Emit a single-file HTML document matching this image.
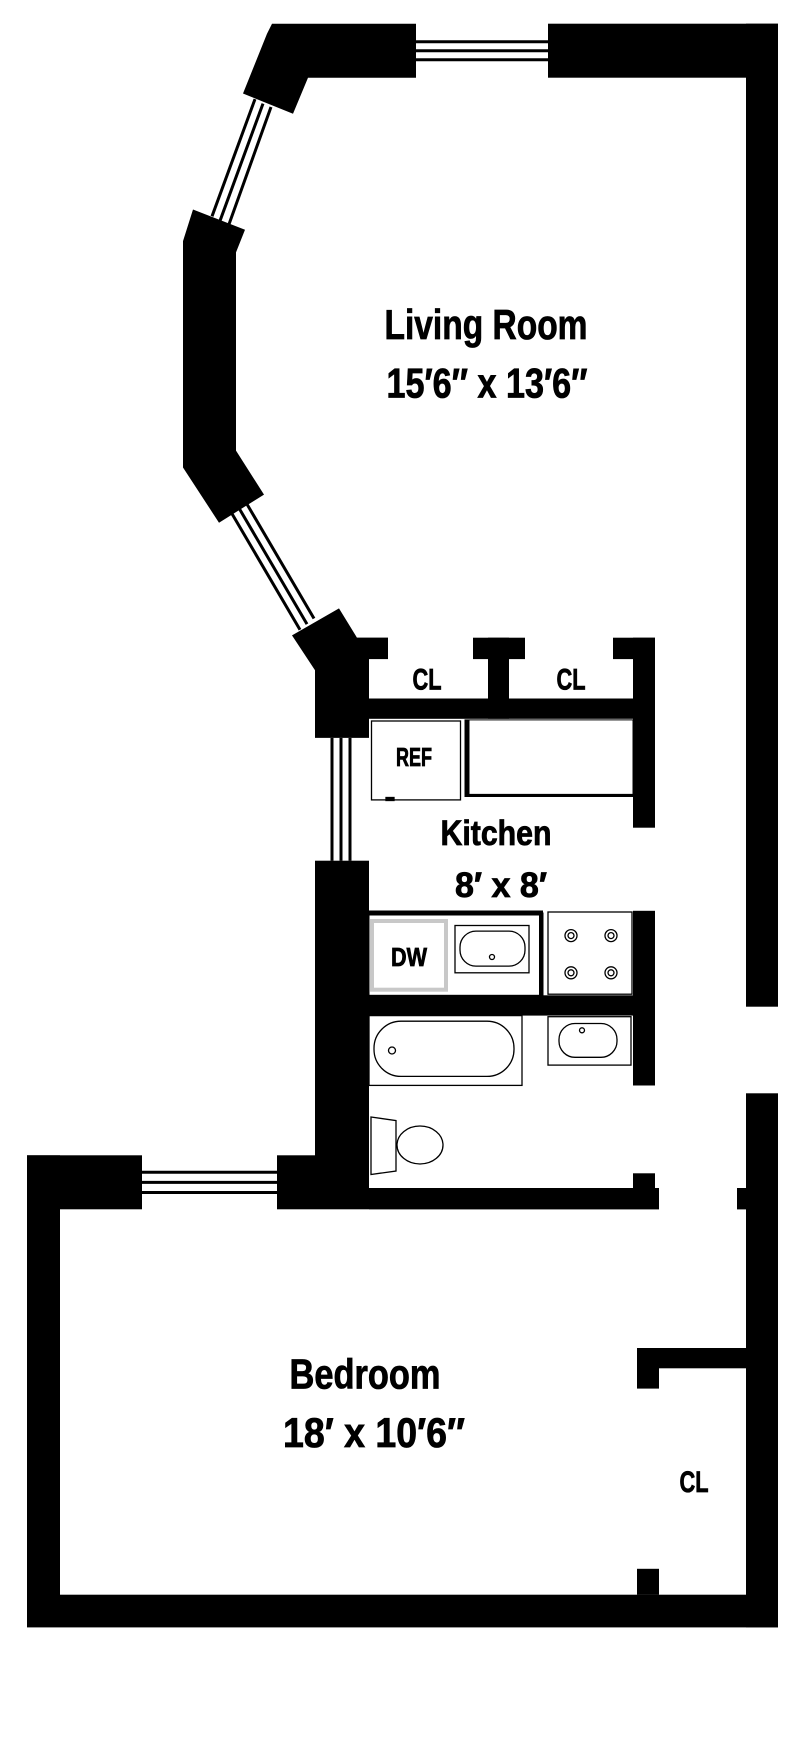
<!DOCTYPE html>
<html><head><meta charset="utf-8"><style>
html,body{margin:0;padding:0;background:#fff;}
svg{display:block;}
text{font-family:"Liberation Sans",sans-serif;font-weight:bold;fill:#000;stroke:#000;stroke-width:0.8;text-anchor:middle;}
</style></head><body>
<svg width="800" height="1749" viewBox="0 0 800 1749" xmlns="http://www.w3.org/2000/svg">
<g fill="#000">
<polygon points="272,23.7 416,23.7 416,77.7 308,77.7 293,113.8 243,93.5 267,33.8"/>
<rect x="548" y="23.7" width="230" height="54"/>
<rect x="746" y="23.7" width="32" height="983"/>
<polygon points="193,209.5 245,229.8 236,252.4 236,450.6 264,494.6 219,522.7 183,467.5 183,241.1"/>
<polygon points="292,635.4 339,608.4 357,637.7 388,637.7 388,659 369,659 369,737.9 315,737.9 315,670.3"/>
<rect x="315" y="860.7" width="54" height="348"/>
<rect x="357" y="637.7" width="31" height="21.4"/>
<rect x="473" y="637.7" width="52" height="21.4"/>
<rect x="488" y="637.7" width="21" height="81"/>
<rect x="613" y="637.7" width="42" height="21.4"/>
<rect x="633" y="637.7" width="22" height="190"/>
<rect x="369" y="698.5" width="286" height="20.3"/>
<rect x="633" y="910.8" width="22" height="174.7"/>
<rect x="369" y="995.3" width="264" height="20.3"/>
<rect x="27" y="1155.3" width="115" height="54"/>
<rect x="277" y="1155.3" width="92" height="54"/>
<rect x="369" y="1188" width="290" height="21.4"/>
<rect x="633" y="1173.3" width="22" height="15.7"/>
<rect x="737" y="1188" width="10" height="21.4"/>
<rect x="27" y="1155.3" width="33" height="440"/>
<rect x="27" y="1594.7" width="751" height="32.7"/>
<rect x="746" y="1093.3" width="32" height="534"/>
<rect x="637" y="1348" width="109" height="20.3"/>
<rect x="637" y="1348" width="22" height="40.6"/>
<rect x="637" y="1568.8" width="22" height="26"/>
</g>
<g stroke="#000" stroke-width="3" fill="none">
<line x1="416" y1="41.7" x2="548" y2="41.7"/><line x1="416" y1="50.7" x2="548" y2="50.7"/><line x1="416" y1="59.7" x2="548" y2="59.7"/>
<line x1="255" y1="99.1" x2="212" y2="216.3"/><line x1="263" y1="103.6" x2="220" y2="220.8"/><line x1="271" y1="107" x2="229" y2="224.2"/>
<line x1="232" y1="513.7" x2="300" y2="629.8"/><line x1="239" y1="508.1" x2="307" y2="624.1"/><line x1="246" y1="502.5" x2="314" y2="618.5"/>
<line x1="332" y1="737.9" x2="332" y2="860.7"/><line x1="341" y1="737.9" x2="341" y2="860.7"/><line x1="350" y1="737.9" x2="350" y2="860.7"/>
<line x1="142" y1="1172.2" x2="277" y2="1172.2"/><line x1="142" y1="1182.4" x2="277" y2="1182.4"/><line x1="142" y1="1192.5" x2="277" y2="1192.5"/>
</g>
<g fill="none" stroke="#000" stroke-width="1.3">
<rect x="371.5" y="721" width="89" height="78.9"/>
<rect x="386" y="797.5" width="8" height="3" fill="#000"/>
<rect x="465" y="719.9" width="168" height="76.6" stroke-width="1"/>
<line x1="467" y1="719.9" x2="467" y2="797" stroke-width="5"/>
<line x1="465" y1="795.4" x2="633" y2="795.4" stroke-width="3"/>
<rect x="369" y="913" width="174" height="82.3" stroke-width="1"/>
<line x1="369" y1="913" x2="543" y2="913" stroke-width="5"/>
<line x1="541" y1="913" x2="541" y2="995.3" stroke-width="4"/>
<rect x="372" y="921" width="74" height="68.7" stroke="#c8c8c8" stroke-width="4"/>
<rect x="455" y="925.5" width="74" height="47.3"/>
<rect x="460" y="931.1" width="65" height="35" rx="16"/>
<circle cx="492" cy="957" r="2.5"/>
<rect x="548" y="912" width="84" height="82.2"/>
<circle cx="571" cy="935.6" r="6"/><circle cx="571" cy="935.6" r="3"/>
<circle cx="611" cy="935.6" r="6"/><circle cx="611" cy="935.6" r="3"/>
<circle cx="571" cy="972.8" r="6"/><circle cx="571" cy="972.8" r="3"/>
<circle cx="611" cy="972.8" r="6"/><circle cx="611" cy="972.8" r="3"/>
<rect x="369" y="1015.6" width="153" height="69.8"/>
<rect x="374" y="1021.2" width="140" height="55.2" rx="27"/>
<circle cx="392" cy="1050.5" r="3.5"/>
<rect x="548" y="1016.7" width="83" height="48.4"/>
<rect x="559" y="1023.5" width="58" height="33.8" rx="16"/>
<circle cx="582" cy="1030.3" r="2.5"/>
<polygon points="371,1117 396,1120.6 396,1171 371,1174.5"/>
<ellipse cx="420" cy="1145" rx="23" ry="19"/>
</g>
<text x="486" y="339" font-size="42" textLength="203" lengthAdjust="spacingAndGlyphs">Living Room</text>
<text x="487" y="397.7" font-size="42" textLength="201" lengthAdjust="spacingAndGlyphs">15′6″ x 13′6″</text>
<text x="427" y="689.5" font-size="30" textLength="29" lengthAdjust="spacingAndGlyphs">CL</text>
<text x="571" y="689.5" font-size="30" textLength="29" lengthAdjust="spacingAndGlyphs">CL</text>
<text x="414" y="766" font-size="26" textLength="36" lengthAdjust="spacingAndGlyphs">REF</text>
<text x="496" y="845" font-size="35" textLength="111" lengthAdjust="spacingAndGlyphs">Kitchen</text>
<text x="501" y="896.8" font-size="35" textLength="92" lengthAdjust="spacingAndGlyphs">8′ x 8′</text>
<text x="409" y="966" font-size="26" textLength="36" lengthAdjust="spacingAndGlyphs">DW</text>
<text x="365" y="1388.5" font-size="42" textLength="151" lengthAdjust="spacingAndGlyphs">Bedroom</text>
<text x="374" y="1447" font-size="42" textLength="182" lengthAdjust="spacingAndGlyphs">18′ x 10′6″</text>
<text x="694" y="1492" font-size="30" textLength="29" lengthAdjust="spacingAndGlyphs">CL</text>
</svg>
</body></html>
